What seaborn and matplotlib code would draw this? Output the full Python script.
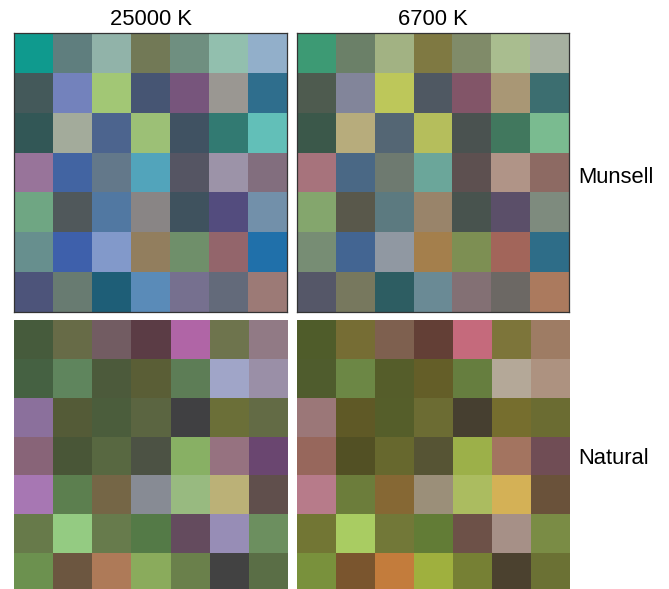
import numpy as np
import matplotlib
matplotlib.use("Agg")
import matplotlib.pyplot as plt
from matplotlib.colors import ListedColormap
import seaborn as sns

# patch colours, 7x7 per panel, read row by row from the top
munsell_25000 = [
    "#0f9a8e", "#5f7e7e", "#91b3a9", "#727956", "#6f8f80", "#92bfae", "#92afca",
    "#44595a", "#7382bc", "#a2c775", "#465573", "#77557c", "#9a9792", "#2f6e8d",
    "#325756", "#a3ab9b", "#4c648e", "#9cc076", "#405262", "#327a72", "#62bfb8",
    "#98749a", "#4264a2", "#63788a", "#52a4bb", "#555563", "#9c93a8", "#826e7e",
    "#6fa683", "#50585b", "#5178a2", "#898585", "#3f525e", "#534c7e", "#7290aa",
    "#678f8e", "#3e60ab", "#8299ca", "#927e5e", "#6f8f6a", "#93656b", "#2070aa",
    "#4d547a", "#687b71", "#1e5e77", "#5a8bb8", "#76708f", "#636a7a", "#9c7a76",
]
munsell_6700 = [
    "#3d9a74", "#6b8068", "#a2b283", "#7f7942", "#808b69", "#a9bd8f", "#a6b0a0",
    "#4e5b4f", "#82859a", "#bdc75a", "#4f5862", "#825568", "#a99775", "#3c6e70",
    "#3b584a", "#b7ac7c", "#546674", "#b5be5c", "#4a5250", "#41785e", "#7abb90",
    "#a7737c", "#4a6885", "#6e7a70", "#6ba69a", "#5d5050", "#b09487", "#8d6a63",
    "#84a66d", "#59584b", "#5c7a80", "#99846a", "#48534e", "#5b4f69", "#7e8b7e",
    "#778d74", "#436592", "#9098a2", "#a47f4c", "#7d8f53", "#a2655a", "#2e6d88",
    "#555768", "#77785e", "#2d5d62", "#6a8a95", "#837074", "#6c6864", "#ab7a5e",
]
natural_25000 = [
    "#465b3c", "#676b47", "#725c62", "#5b3c45", "#b065a6", "#6e744d", "#917a85",
    "#456142", "#5f855d", "#4c5a3b", "#5a5e36", "#5d7d56", "#a0a5c8", "#9a8fa7",
    "#8b709c", "#545b37", "#4b5d3c", "#5b6541", "#404042", "#6b6f38", "#636b45",
    "#886478", "#495637", "#586841", "#4c5244", "#88b064", "#967280", "#6a4670",
    "#a777b3", "#5c7f4f", "#756646", "#878b94", "#98ba80", "#bbb177", "#604f4c",
    "#677a4a", "#94cb82", "#677b4c", "#547a47", "#644b5e", "#978db6", "#6c8f5f",
    "#6c914f", "#6c5640", "#ae7a58", "#8aab5c", "#6a804b", "#424242", "#5a6e46",
]
natural_6700 = [
    "#4f5c2a", "#766d34", "#7e604f", "#633f36", "#c56a7c", "#7d753a", "#9e7c64",
    "#4f5c2d", "#6c8745", "#555d2a", "#645e28", "#667e3f", "#b4a898", "#ad9280",
    "#9b7778", "#5f5926", "#555e2a", "#6c6c33", "#463f30", "#766e2e", "#6b6c32",
    "#97675c", "#525024", "#67682e", "#565434", "#9cb049", "#a37460", "#704d55",
    "#b77b8a", "#6c7d3b", "#866834", "#9b8f79", "#abbc60", "#d4b156", "#6a523a",
    "#727634", "#a9cc62", "#727838", "#627c36", "#6d5148", "#a69087", "#7a8c45",
    "#79913c", "#7a552e", "#c37c3c", "#9fb03e", "#768034", "#4b412f", "#6b7134",
]

col_titles = ["25000 K", "6700 K"]
row_labels = ["Munsell", "Natural"]

W, H = 669, 589
fig = plt.figure(figsize=(W / 100, H / 100), dpi=100)
plt.rcParams["font.family"] = ["Liberation Sans", "DejaVu Sans"]

# panel boxes in pixels: left, top, width, height
boxes = [
    (14, 33, 273, 279), (297, 33, 272, 279),
    (14, 320, 274, 272), (297, 320, 273, 272),
]
panels = [munsell_25000, munsell_6700, natural_25000, natural_6700]

idx = np.arange(49).reshape(7, 7)
for i, (colors, (x0, y0, w, h)) in enumerate(zip(panels, boxes)):
    ax = fig.add_axes([x0 / W, 1 - (y0 + h) / H, w / W, h / H])
    sns.heatmap(idx, cmap=ListedColormap(colors), vmin=-0.5, vmax=48.5,
                cbar=False, xticklabels=False, yticklabels=False, ax=ax)
    if i < 2:
        for s in ax.spines.values():
            s.set_visible(True)
            s.set_color("#333333")
            s.set_linewidth(0.9)
        ax.set_title(col_titles[i], fontsize=15.8, pad=6)

fig.text(578 / W, 1 - 177 / H, row_labels[0], fontsize=15.8, va="center")
fig.text(578 / W, 1 - 459 / H, row_labels[1], fontsize=15.8, va="center")

fig.savefig("out.png", dpi=100)
